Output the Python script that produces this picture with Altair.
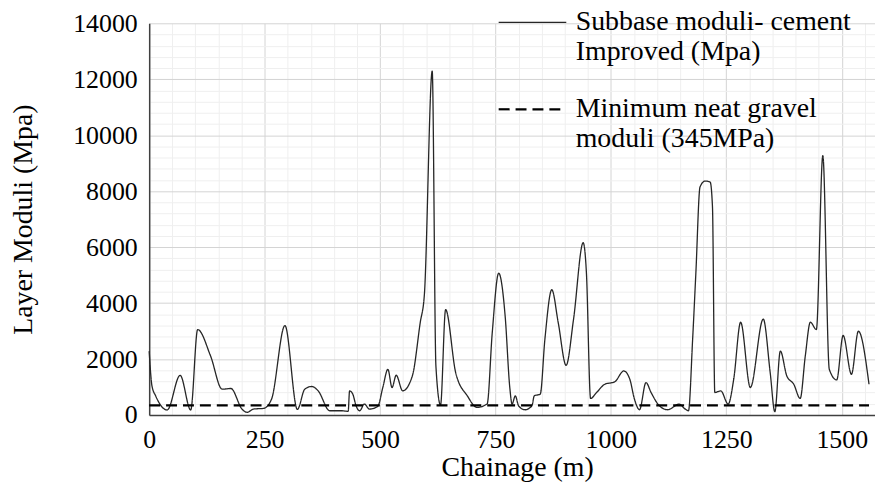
import altair as alt
import pandas as pd

# Chainage (m) and subbase moduli (MPa)
chainage = [0, 6, 14, 39, 67, 90, 105, 133, 158, 177, 201, 212, 226, 248, 265, 294, 321,
            337, 352, 366, 391, 416, 431, 434, 441, 448, 456, 466, 477, 495, 506, 517, 526,
            535, 549, 570, 587, 596, 613, 621, 631, 642, 664, 689, 710, 732, 743, 757, 771,
            781, 786, 793, 800, 814, 829, 834, 847, 857, 872, 886, 903, 919, 940, 947, 956,
            969, 987, 1008, 1028, 1041, 1051, 1062, 1076, 1087, 1105, 1123, 1148, 1159, 1168,
            1177, 1184, 1193, 1204, 1215, 1220, 1225, 1238, 1254, 1266, 1281, 1302, 1330,
            1345, 1355, 1367, 1381, 1396, 1410, 1421, 1432, 1445, 1459, 1473, 1489, 1503,
            1521, 1536, 1559]
moduli = [2285, 1041, 686, 180, 1420, 180, 3055, 2107, 924, 948, 213, 96, 213, 238, 568, 3198, 200,
          924, 1020, 864, 153, 153, 131, 864, 746, 330, 153, 391, 213, 309, 984, 1634, 984,
          1421, 864, 1400, 3300, 4300, 12290, 1752, 355, 3766, 1500, 686, 273, 400, 2938, 5070, 3528,
          984, 391, 686, 330, 188, 330, 686, 746, 2700, 4477, 3292, 1776, 3411, 6158, 5070, 592,
          805, 1101, 1184, 1575, 1279, 568, 189, 1161, 805, 330, 189, 391, 238, 153,
          2700, 5070, 8148, 8361, 8325, 7437, 805, 864, 391, 1279, 3316, 984, 3430,
          1516, 118, 2286, 1397, 1101, 592, 2108, 3316, 3055, 9273, 1634, 1255, 2842,
          1457, 2996, 1101]

min_chainage = [0, 1559]
min_moduli = [345, 345]

series_names = ["Subbase moduli- cement|Improved (Mpa)",
                "Minimum neat gravel|moduli (345MPa)"]

x_ticks = list(range(0, 1551, 50))
y_ticks = list(range(0, 14001, 400))

df = pd.concat([
    pd.DataFrame({"x": chainage, "y": moduli, "s": series_names[0]}),
    pd.DataFrame({"x": min_chainage, "y": min_moduli, "s": series_names[1]}),
])

FONT = "Liberation Serif"

chart = alt.Chart(df).mark_line(interpolate="monotone").encode(
    x=alt.X("x:Q", scale=alt.Scale(domain=[0, 1572], nice=False),
            axis=alt.Axis(values=x_ticks, title="Chainage (m)", titleX=370,
                          labelExpr="datum.value % 250 === 0 ? datum.label : ''",
                          format="d",
                          gridColor={"condition": {"test": "datum.value % 250 === 0", "value": "#d4d4d4"}, "value": "#efefef"})),
    y=alt.Y("y:Q", scale=alt.Scale(domain=[0, 14000], nice=False),
            axis=alt.Axis(values=y_ticks, title="Layer Moduli (Mpa)",
                          labelExpr="datum.value % 2000 === 0 ? datum.label : ''",
                          format="d",
                          gridColor={"condition": {"test": "datum.value % 2000 === 0", "value": "#d4d4d4"}, "value": "#efefef"})),
    strokeDash=alt.StrokeDash("s:N", scale=alt.Scale(domain=series_names, range=[[1, 0], [11, 6]]),
                              legend=alt.Legend(title=None, orient="none", legendX=350, legendY=-36,
                                                symbolType="stroke", symbolSize=4624,
                                                labelExpr="split(datum.label, '|')",
                                                labelFont=FONT, labelFontSize=28, labelColor="#000",
                                                labelLimit=500, labelOffset=8, rowPadding=8,
                                                padding=0)),
    strokeWidth=alt.StrokeWidth("s:N", scale=alt.Scale(domain=series_names, range=[1.3, 2.2])),
    color=alt.Color("s:N", scale=alt.Scale(domain=series_names, range=["#262626", "#000000"])),
).properties(
    width=730, height=394,
    autosize=alt.AutoSizeParams(type="none"),
    padding={"left": 142, "top": 14, "right": 0, "bottom": 67},
).configure_axis(
    labelFont=FONT, labelFontSize=26, labelColor="#000",
    titleFont=FONT, titleFontSize=28, titleFontWeight="normal", titleColor="#000",
    ticks=False, domainColor="#404040", domainWidth=1.5, gridWidth=1,
    labelPadding=12,
).configure_axisY(titlePadding=35).configure_axisX(titlePadding=1, labelFlush=False).configure_view(stroke=None)

chart.save("out.html", embed_options={"renderer": "svg", "actions": False})
